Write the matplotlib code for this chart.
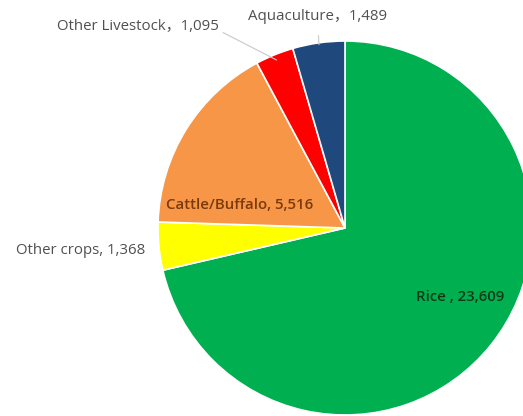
import numpy as np
import matplotlib
matplotlib.use("Agg")
import matplotlib.pyplot as plt

categories = ["Rice", "Other crops", "Cattle/Buffalo", "Other Livestock", "Aquaculture"]
values = [23609, 1368, 5516, 1095, 1489]
colors = ["#00B050", "#FFFF00", "#F79646", "#FF0000", "#1F497D"]

plt.rcParams['font.family'] = ['Open Sans', 'Noto Sans CJK SC', 'DejaVu Sans']

fig = plt.figure(figsize=(5.23, 4.16), dpi=100)
ax = fig.add_axes([0, 0, 1, 1])
cx, cy, r = 345, 416 - 228, 187
wedges, _ = ax.pie(values, colors=colors, startangle=90, counterclock=False,
                   center=(cx, cy), radius=r,
                   wedgeprops=dict(edgecolor="white", linewidth=1.2))
ax.set_xlim(0, 523)
ax.set_ylim(0, 416)
ax.set_aspect('equal')
ax.axis('off')

fs = 10.8
def lab(i):
    return f"{categories[i]}, {values[i]:,}"

# Rice
ax.text(460, 416 - 297, "Rice , " + f"{values[0]:,}", ha='center', va='center',
        fontsize=fs, color="#0b3a18", fontweight='semibold')
# Cattle
ax.text(240, 416 - 205, lab(2), ha='center', va='center', fontsize=fs,
        color="#7a3a0c", fontweight='semibold')
# Other crops
ax.text(145, 416 - 251, lab(1), ha='right', va='center', fontsize=fs, color="#505050")

def edge(i, frac=1.0):
    w = wedges[i]
    a = np.deg2rad((w.theta1 + w.theta2) / 2)
    return cx + r * frac * np.cos(a), cy + r * frac * np.sin(a)

ex, ey = edge(3, 0.97)
ax.annotate("Other Livestock，" + f"{values[3]:,}", xy=(ex, ey), xytext=(219, 416 - 26),
            ha='right', va='center', fontsize=fs, color="#505050",
            arrowprops=dict(arrowstyle='-', color="#c8c8c8", lw=0.8, shrinkA=1, shrinkB=0,
                            relpos=(1, 0.2)))
ex, ey = edge(4, 0.99)
ax.annotate("Aquaculture，" + f"{values[4]:,}", xy=(ex, ey), xytext=(318, 416 - 17),
            ha='center', va='center', fontsize=fs, color="#505050",
            arrowprops=dict(arrowstyle='-', color="#c8c8c8", lw=0.8, shrinkA=6, shrinkB=0,
                            relpos=(0.5, 0)))

fig.savefig("out.png", dpi=100)
